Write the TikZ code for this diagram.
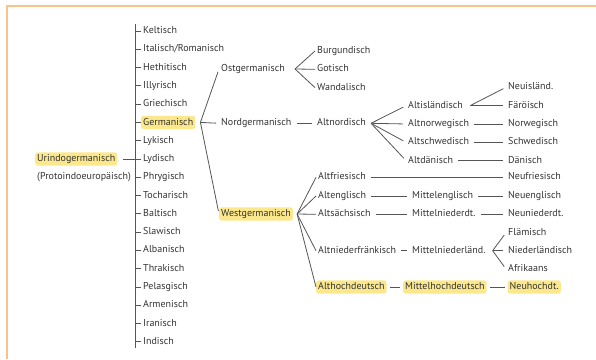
\documentclass[tikz,border=0pt]{standalone}
\usepackage{fontspec}
\setmainfont{PT Sans}
\usetikzlibrary{positioning}
\definecolor{txt}{HTML}{333333}
\definecolor{ln}{HTML}{555555}
\definecolor{hly}{HTML}{FCE88C}
\definecolor{frm}{HTML}{F8C384}
\begin{document}
\begin{tikzpicture}[x=1pt, y=-1pt, node distance=18.28pt, on grid,
  lang/.style = {anchor=west, inner sep=2pt, text=txt, font=\fontsize{10}{12}\selectfont, text height=7.2pt, text depth=2pt},
  hl/.style = {lang, fill=hly, rounded corners=2.5pt},
  br/.style = {draw=ln, line width=0.8pt, shorten >=3pt},
  con/.style = {br, shorten <=3pt}]
\useasboundingbox (0,0) rectangle (596,359);
\draw[frm, line width=2pt] (7,359) -- (7,6) -- (596,6);
\node[hl] (urind) at (35,159) {Urindogermanisch};
\node[lang] (proto) at (35,176.5) {(Protoindoeuropäisch)};
\node[lang] (kelt) at (141,31) {Keltisch};
\node[lang] (ital) [below=of kelt.west, anchor=west] {Italisch/Romanisch};
\node[lang] (heth) [below=of ital.west, anchor=west] {Hethitisch};
\node[lang] (illy) [below=of heth.west, anchor=west] {Illyrisch};
\node[lang] (grie) [below=of illy.west, anchor=west] {Griechisch};
\node[hl] (germ) [below=of grie.west, anchor=west] {Germanisch};
\node[lang] (lyki) [below=of germ.west, anchor=west] {Lykisch};
\node[lang] (lydi) [below=of lyki.west, anchor=west] {Lydisch};
\node[lang] (phry) [below=of lydi.west, anchor=west] {Phrygisch};
\node[lang] (toch) [below=of phry.west, anchor=west] {Tocharisch};
\node[lang] (balt) [below=of toch.west, anchor=west] {Baltisch};
\node[lang] (slaw) [below=of balt.west, anchor=west] {Slawisch};
\node[lang] (alba) [below=of slaw.west, anchor=west] {Albanisch};
\node[lang] (thra) [below=of alba.west, anchor=west] {Thrakisch};
\node[lang] (pela) [below=of thra.west, anchor=west] {Pelasgisch};
\node[lang] (arme) [below=of pela.west, anchor=west] {Armenisch};
\node[lang] (iran) [below=of arme.west, anchor=west] {Iranisch};
\node[lang] (indi) [below=of iran.west, anchor=west] {Indisch};
\coordinate (sptop) at (135,24);
\coordinate (spbot) at (135,348);
\draw[br, shorten >=0pt] (sptop) -- (spbot);
\draw[br, shorten <=6pt, shorten >=0pt] (urind.east) -- (urind.east -| sptop);
\draw[br, shorten >=0pt] (sptop |- kelt) -- (kelt);
\draw[br, shorten >=0pt] (sptop |- ital) -- (ital);
\draw[br, shorten >=0pt] (sptop |- heth) -- (heth);
\draw[br, shorten >=0pt] (sptop |- illy) -- (illy);
\draw[br, shorten >=0pt] (sptop |- grie) -- (grie);
\draw[br, shorten >=0pt] (sptop |- germ) -- (germ);
\draw[br, shorten >=0pt] (sptop |- lyki) -- (lyki);
\draw[br, shorten >=0pt] (sptop |- lydi) -- (lydi);
\draw[br, shorten >=0pt] (sptop |- phry) -- (phry);
\draw[br, shorten >=0pt] (sptop |- toch) -- (toch);
\draw[br, shorten >=0pt] (sptop |- balt) -- (balt);
\draw[br, shorten >=0pt] (sptop |- slaw) -- (slaw);
\draw[br, shorten >=0pt] (sptop |- alba) -- (alba);
\draw[br, shorten >=0pt] (sptop |- thra) -- (thra);
\draw[br, shorten >=0pt] (sptop |- pela) -- (pela);
\draw[br, shorten >=0pt] (sptop |- arme) -- (arme);
\draw[br, shorten >=0pt] (sptop |- iran) -- (iran);
\draw[br, shorten >=0pt] (sptop |- indi) -- (indi);
\node[lang] (ost) at (219,69) {Ostgermanisch};
\node[lang] (nord) at (219,123.3) {Nordgermanisch};
\node[hl] (westg) at (219,214) {Westgermanisch};
\coordinate (germj) at ([xshift=5pt]germ.east);
\draw[br] (germj) -- (ost.west);
\draw[br] (germj) -- (nord.west);
\draw[br] (germj) -- (westg.west);
\node[lang] (burg) at (315,51) {Burgundisch};
\node[lang] (goti) at (315,69.3) {Gotisch};
\node[lang] (wand) at (315,87.6) {Wandalisch};
\coordinate (ostj) at ([xshift=8pt]ost.east);
\draw[br, shorten >=0pt] (ostj) -- (burg.west);
\draw[br, shorten >=0pt] (ostj) -- (goti.west);
\draw[br, shorten >=0pt] (ostj) -- (wand.west);
\node[lang] (anord) at (315,123.3) {Altnordisch};
\draw[con] (nord) -- (anord);
\node[lang] (aisl) at (406,105.7) {Altisländisch};
\node[lang] (anorw) at (406,124) {Altnorwegisch};
\node[lang] (aschw) at (406,142.3) {Altschwedisch};
\node[lang] (adan) at (406,160.6) {Altdänisch};
\coordinate (anordj) at ([xshift=3pt]anord.east);
\draw[br] (anordj) -- (aisl.west);
\draw[br] (anordj) -- (anorw.west);
\draw[br] (anordj) -- (aschw.west);
\draw[br] (anordj) -- (adan.west);
\node[lang] (nisl) at (506,87.3) {Neuisländ.};
\node[lang] (faer) at (506,105.7) {Färöisch};
\node[lang] (norw) at (506,124) {Norwegisch};
\node[lang] (schw) at (506,142.3) {Schwedisch};
\node[lang] (dan) at (506,160.6) {Dänisch};
\coordinate (aislj) at ([xshift=5pt]aisl.east);
\draw[br] (aislj) -- (nisl.west);
\draw[br] (aislj) -- (faer.west);
\draw[con] (anorw) -- (norw);
\draw[con] (aschw) -- (schw);
\draw[con] (adan) -- (dan);
\node[lang] (afries) at (316,177.3) {Altfriesisch};
\node[lang] (aengl) at (316,196) {Altenglisch};
\node[lang] (asach) at (316,214.3) {Altsächsisch};
\node[lang] (anfr) at (316,250.7) {Altniederfränkisch};
\node[hl] (ahd) at (316,287) {Althochdeutsch};
\coordinate (westj) at ([xshift=4pt]westg.east);
\draw[br, shorten >=0pt] (westj) -- (afries.west);
\draw[br, shorten >=0pt] (westj) -- (aengl.west);
\draw[br, shorten >=0pt] (westj) -- (asach.west);
\draw[br, shorten >=0pt] (westj) -- (anfr.west);
\draw[br, shorten >=0pt] (westj) -- (ahd.west);
\node[lang] (mengl) at (410,196) {Mittelenglisch};
\node[lang] (mndd) at (410,214.3) {Mittelniederdt.};
\node[lang] (mnl) at (410,250.7) {Mittelniederländ.};
\node[hl] (mhd) at (403,287) {Mittelhochdeutsch};
\node[lang] (nfries) at (506,177.3) {Neufriesisch};
\node[lang] (nengl) at (506,196) {Neuenglisch};
\node[lang] (nndd) at (506,214.3) {Neuniederdt.};
\node[lang] (flam) at (506,232.6) {Flämisch};
\node[lang] (nl) at (506,250.7) {Niederländisch};
\node[lang] (afr) at (506,269) {Afrikaans};
\node[hl] (nhd) at (507.5,287) {Neuhochdt.};
\draw[con] (afries) -- (nfries);
\draw[con] (aengl) -- (mengl);
\draw[con] (mengl) -- (nengl);
\draw[con] (asach) -- (mndd);
\draw[con] (mndd) -- (nndd);
\draw[con] (anfr) -- (mnl);
\coordinate (mnlj) at ([xshift=5pt]mnl.east);
\draw[br] (mnlj) -- (flam.west);
\draw[br] (mnlj) -- (nl.west);
\draw[br] (mnlj) -- (afr.west);
\draw[con] (ahd) -- (mhd);
\draw[con] (mhd) -- (nhd);
\end{tikzpicture}
\end{document}
